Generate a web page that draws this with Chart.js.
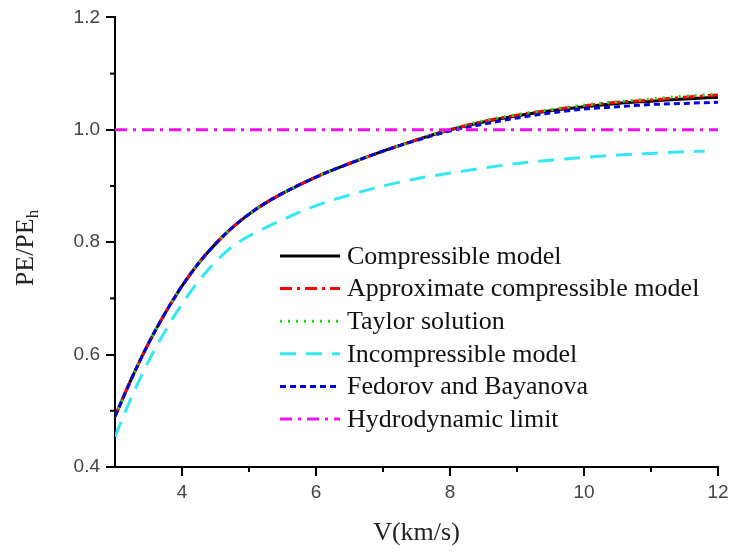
<!DOCTYPE html>
<html>
<head>
<meta charset="utf-8">
<script src="https://cdn.jsdelivr.net/npm/chart.js@4.4.1/dist/chart.umd.min.js"></script>
<style>
  html, body { margin: 0; padding: 0; background: #fff; }
  #wrap { width: 734px; height: 554px; }
</style>
</head>
<body>
<div id="wrap"><canvas id="peChart"></canvas></div>
<script>
// values
const V = [3, 3.25, 3.5, 3.75, 4, 4.25, 4.5, 4.75, 5, 5.25, 5.5, 6, 6.5, 7, 7.5, 8, 8.5, 9, 9.5, 10, 10.5, 11, 11.5, 12];
const compressible = [0.49, 0.558, 0.62, 0.674, 0.722, 0.763, 0.797, 0.826, 0.850, 0.870, 0.887, 0.916, 0.940, 0.962, 0.982, 1.000, 1.014, 1.025, 1.034, 1.041, 1.047, 1.051, 1.055, 1.058];
const approxCompressible = [0.49, 0.558, 0.62, 0.674, 0.722, 0.763, 0.797, 0.826, 0.850, 0.870, 0.887, 0.916, 0.940, 0.962, 0.982, 1.000, 1.015, 1.026, 1.035, 1.043, 1.049, 1.053, 1.058, 1.062];
const taylor = [0.49, 0.558, 0.62, 0.674, 0.722, 0.763, 0.797, 0.826, 0.850, 0.870, 0.887, 0.916, 0.940, 0.962, 0.982, 1.001, 1.016, 1.027, 1.036, 1.044, 1.050, 1.055, 1.060, 1.064];
const fedorov = [0.49, 0.558, 0.62, 0.674, 0.722, 0.763, 0.797, 0.826, 0.850, 0.870, 0.887, 0.916, 0.940, 0.962, 0.981, 0.998, 1.010, 1.021, 1.030, 1.037, 1.041, 1.045, 1.047, 1.049];
const V_inc = [3, 3.25, 3.5, 3.75, 4, 4.25, 4.5, 4.75, 5, 5.25, 5.5, 6, 6.5, 7, 7.5, 8, 8.5, 9, 9.5, 10, 10.5, 11, 11.5, 11.8];
const incompressible = [0.454, 0.525, 0.588, 0.642, 0.690, 0.731, 0.765, 0.792, 0.811, 0.826, 0.840, 0.865, 0.884, 0.900, 0.913, 0.923, 0.932, 0.940, 0.946, 0.951, 0.955, 0.958, 0.961, 0.962];
const V_hydro = [3, 12];
const hydroLimit = [1.0, 1.0];

const xMajor = [4, 6, 8, 10, 12];
const xMinor = [5, 7, 9, 11];
const yMajor = [0.4, 0.6, 0.8, 1.0, 1.2];
const yMinor = [0.5, 0.7, 0.9, 1.1];

const SERIF = "'Liberation Serif', 'Times New Roman', serif";
const SANS = "'Liberation Sans', Arial, sans-serif";

function pts(xs, ys) {
  return xs.map((x, i) => ({ x: x, y: ys[i] }));
}

function series(label, xs, ys, color, dash, order) {
  return {
    label: label,
    data: pts(xs, ys),
    borderColor: color,
    backgroundColor: color,
    borderWidth: 3,
    borderDash: dash,
    pointRadius: 0,
    fill: false,
    cubicInterpolationMode: 'monotone',
    order: order
  };
}

const datasets = [
  series('Compressible model', V, compressible, '#000000', [], 5),
  series('Approximate compressible model', V, approxCompressible, '#ff0000', [12, 5, 3, 5], 3),
  series('Taylor solution', V, taylor, '#22dd22', [2, 6], 2),
  series('Incompressible model', V_inc, incompressible, '#33e8f0', [16, 10], 4),
  series('Fedorov and Bayanova', V, fedorov, '#0000dd', [6, 4], 1),
  series('Hydrodynamic limit', V_hydro, hydroLimit, '#ee11ee', [12, 6, 3, 6], 0)
];

// minor ticks, axis titles and in-plot legend
const extras = {
  id: 'extras',
  afterDraw(chart) {
    const ctx = chart.ctx;
    const xs = chart.scales.x, ys = chart.scales.y;
    const area = chart.chartArea;
    ctx.save();
    ctx.strokeStyle = '#000';
    ctx.lineWidth = 2;
    ctx.setLineDash([]);
    xMinor.forEach(v => {
      const px = xs.getPixelForValue(v);
      ctx.beginPath(); ctx.moveTo(px, area.bottom); ctx.lineTo(px, area.bottom + 5); ctx.stroke();
    });
    yMinor.forEach(v => {
      const py = ys.getPixelForValue(v);
      ctx.beginPath(); ctx.moveTo(area.left, py); ctx.lineTo(area.left - 5, py); ctx.stroke();
    });

    // x title
    ctx.fillStyle = '#222';
    ctx.font = '26px ' + SERIF;
    ctx.textAlign = 'center';
    ctx.textBaseline = 'middle';
    ctx.fillText('V(km/s)', (area.left + area.right) / 2, 533);

    // y title with subscript
    ctx.save();
    ctx.translate(25, 248);
    ctx.rotate(-Math.PI / 2);
    ctx.font = '26px ' + SERIF;
    const main = 'PE/PE';
    const w1 = ctx.measureText(main).width;
    ctx.font = '17px ' + SERIF;
    const w2 = ctx.measureText('h').width;
    const start = -(w1 + w2) / 2;
    ctx.textAlign = 'left';
    ctx.textBaseline = 'alphabetic';
    ctx.font = '26px ' + SERIF;
    ctx.fillText(main, start, 8);
    ctx.font = '17px ' + SERIF;
    ctx.fillText('h', start + w1, 13);
    ctx.restore();

    // legend
    const x0 = 280, x1 = 340, tx = 347, y0 = 256, step = 32.6;
    ctx.font = '26px ' + SERIF;
    ctx.textAlign = 'left';
    ctx.textBaseline = 'middle';
    chart.data.datasets.forEach((ds, i) => {
      const y = y0 + i * step;
      ctx.strokeStyle = ds.borderColor;
      ctx.lineWidth = 3;
      ctx.setLineDash(ds.borderDash);
      ctx.beginPath(); ctx.moveTo(x0, y); ctx.lineTo(x1, y); ctx.stroke();
      ctx.fillStyle = '#111';
      ctx.fillText(ds.label, tx, y + 1);
    });
    ctx.restore();
  }
};

new Chart(document.getElementById('peChart'), {
  type: 'line',
  data: { datasets: datasets },
  options: {
    responsive: true,
    maintainAspectRatio: false,
    animation: false,
    layout: { padding: { left: 0, right: 16, top: 17, bottom: 0 } },
    plugins: {
      legend: { display: false },
      tooltip: { enabled: false }
    },
    scales: {
      x: {
        type: 'linear',
        min: 3,
        max: 12,
        afterBuildTicks: s => { s.ticks = xMajor.map(v => ({ value: v })); },
        afterFit: s => { s.height = 87; },
        grid: { drawOnChartArea: false, drawTicks: true, tickLength: 9, color: '#000', lineWidth: 2 },
        border: { display: true, color: '#000', width: 2 },
        ticks: { color: '#444', font: { family: SANS, size: 19 }, padding: 5, maxRotation: 0,
          callback: v => String(v) }
      },
      y: {
        type: 'linear',
        min: 0.4,
        max: 1.2,
        afterBuildTicks: s => { s.ticks = yMajor.map(v => ({ value: v })); },
        afterFit: s => { s.width = 115; },
        grid: { drawOnChartArea: false, drawTicks: true, tickLength: 9, color: '#000', lineWidth: 2 },
        border: { display: true, color: '#000', width: 2 },
        ticks: { color: '#444', font: { family: SANS, size: 19 }, padding: 6,
          callback: v => Number(v).toFixed(1) }
      }
    }
  },
  plugins: [extras]
});
</script>
</body>
</html>
